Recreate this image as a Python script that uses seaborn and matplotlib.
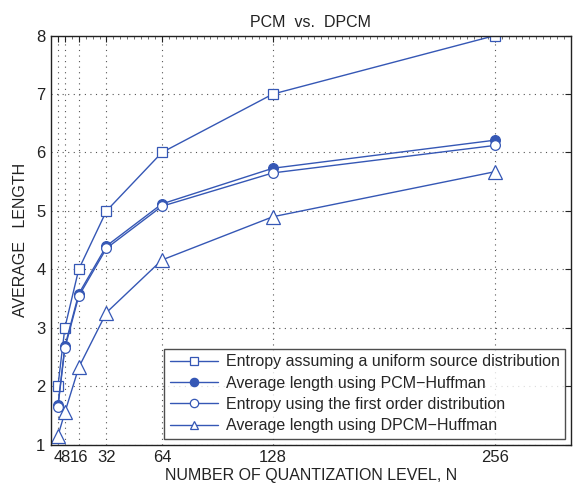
import numpy as np
import pandas as pd
import matplotlib
matplotlib.use("Agg")
import matplotlib.pyplot as plt
import seaborn as sns

# values
levels = [4, 8, 16, 32, 64, 128, 256]
uniform_entropy = [2, 3, 4, 5, 6, 7, 8]
pcm_huffman = [1.67, 2.68, 3.58, 4.40, 5.12, 5.73, 6.21]
first_order_entropy = [1.65, 2.65, 3.54, 4.36, 5.08, 5.65, 6.12]
dpcm_huffman = [1.15, 1.55, 2.32, 3.26, 4.16, 4.90, 5.67]

labels = [
    "Entropy assuming a uniform source distribution",
    "Average length using PCM\u2212Huffman",
    "Entropy using the first order distribution",
    "Average length using DPCM\u2212Huffman",
]

sns.set_style("white")
plt.rcParams["font.family"] = ["Liberation Sans", "DejaVu Sans"]

blue = "#3557b5"
fig = plt.figure(figsize=(5.75, 4.86), dpi=100)
ax = fig.add_axes([0.0887, 0.0852, 0.9043, 0.8415])

series = [
    (uniform_entropy, "s", "white", 7),
    (pcm_huffman, "o", blue, 7),
    (first_order_entropy, "o", "white", 7),
    (dpcm_huffman, "^", "white", 10),
]
for (vals, mk, fc, ms), lab in zip(series, labels):
    df = pd.DataFrame({"N": levels, "L": vals})
    sns.lineplot(data=df, x="N", y="L", ax=ax, color=blue, lw=1.0,
                 marker=mk, markersize=ms, markerfacecolor=fc,
                 markeredgecolor=blue, markeredgewidth=0.9, label=lab)

ax.set_xlim(0, 300)
ax.set_ylim(1, 8)
ax.set_xticks(levels)
ax.set_xticklabels([str(v) for v in levels])
ax.set_yticks(range(1, 9))
ax.set_xticks(np.arange(0, 301, 4), minor=True)
ax.tick_params(which="major", direction="in", length=4, top=True, right=True,
               labelsize=12, colors="#222222", pad=4)
ax.tick_params(which="minor", direction="in", length=2, top=True, right=False,
               bottom=False, color="#555555")
ax.grid(True, which="major", ls=(0, (1, 4)), color="#555555", lw=0.8)
for s in ax.spines.values():
    s.set_color("#222222")
    s.set_linewidth(1.0)

ax.set_title("PCM  vs.  DPCM", fontsize=11.5, color="#222222", pad=6)
ax.set_xlabel("NUMBER OF QUANTIZATION LEVEL, N", fontsize=11.5, color="#222222", labelpad=2)
ax.set_ylabel("AVERAGE   LENGTH", fontsize=11.5, color="#222222", labelpad=6)

leg = ax.legend(loc="lower right", fontsize=11.5, frameon=True, fancybox=False,
                edgecolor="#222222", handlelength=3.0, borderaxespad=0.35,
                borderpad=0.35, labelspacing=0.4, handletextpad=0.5)
leg.get_frame().set_linewidth(1.0)
for h in leg.legend_handles:
    h.set_markersize(6)

fig.savefig("out.png", dpi=100)
